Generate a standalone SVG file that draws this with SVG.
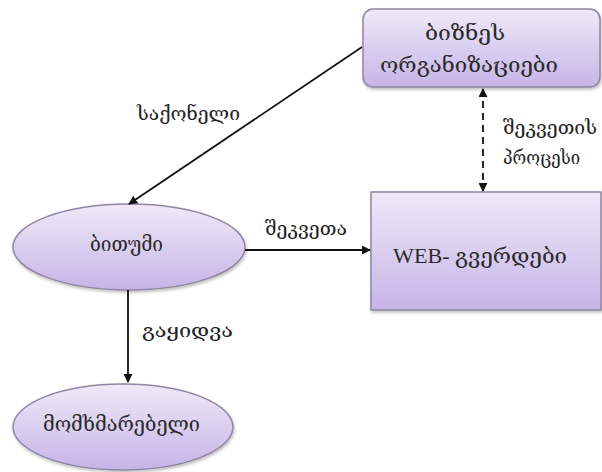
<svg xmlns="http://www.w3.org/2000/svg" width="602" height="472" viewBox="0 0 602 472">
<defs>
<linearGradient id="g" x1="0" y1="0" x2="0" y2="1">
<stop offset="0" stop-color="#efe9f8"/>
<stop offset="1" stop-color="#c7b4e7"/>
</linearGradient>
<filter id="sh" x="-10%" y="-10%" width="120%" height="130%">
<feDropShadow dx="1" dy="2" stdDeviation="1.5" flood-color="#000" flood-opacity="0.25"/>
</filter>
<marker id="ah" viewBox="0 0 10 10" refX="9" refY="5" markerWidth="9" markerHeight="9" markerUnits="userSpaceOnUse" orient="auto-start-reverse">
<path d="M0,0 L10,5 L0,10 z" fill="#111"/>
</marker>
</defs>
<style>
.shape{fill:url(#g);stroke:#8e86a3;stroke-width:1.5;filter:url(#sh)}
.t{font-family:"DejaVu Serif","DejaVu Sans",serif;font-size:20px;fill:#2a2a2a}
.lbl{font-family:"DejaVu Serif","DejaVu Sans",serif;font-size:19px;fill:#222}
.c{stroke:#111;stroke-width:1.8;fill:none}
</style>
<rect width="602" height="472" fill="#fff"/>
<g id="biz">
<rect class="shape" x="363" y="9" width="237" height="78" rx="10"/>
<text class="t" x="425" y="40" textLength="80" lengthAdjust="spacingAndGlyphs">ბიზნეს</text>
<text class="t" x="380" y="72" textLength="178" lengthAdjust="spacingAndGlyphs">ორგანიზაციები</text>
</g>
<g id="bitumi">
<ellipse class="shape" cx="129" cy="247" rx="116" ry="43"/>
<text class="t" x="90" y="251" textLength="73" lengthAdjust="spacingAndGlyphs">ბითუმი</text>
</g>
<g id="web">
<rect class="shape" x="371" y="192" width="230" height="118"/>
<text x="393" y="263" textLength="174" lengthAdjust="spacingAndGlyphs" style="font-family:'Liberation Serif','DejaVu Serif',serif;font-size:20px;fill:#2a2a2a">WEB- გვერდები</text>
</g>
<g id="consumer">
<ellipse class="shape" cx="123" cy="427" rx="110" ry="43"/>
<text class="t" x="43" y="431" textLength="157" lengthAdjust="spacingAndGlyphs">მომხმარებელი</text>
</g>
<g id="connectors">
<line class="c" x1="362" y1="47" x2="129" y2="204" marker-end="url(#ah)"/>
<line class="c" x1="483" y1="89" x2="483" y2="191" stroke-dasharray="7,5" marker-start="url(#ah)" marker-end="url(#ah)"/>
<line class="c" x1="245" y1="250" x2="370" y2="250" marker-end="url(#ah)"/>
<line class="c" x1="128" y1="290" x2="128" y2="382" marker-end="url(#ah)"/>
<text class="lbl" x="137" y="120" textLength="103" lengthAdjust="spacingAndGlyphs">საქონელი</text>
<text class="lbl" x="503" y="134" textLength="94" lengthAdjust="spacingAndGlyphs">შეკვეთის</text>
<text class="lbl" x="503" y="164" textLength="77" lengthAdjust="spacingAndGlyphs">პროცესი</text>
<text class="lbl" x="265" y="235" textLength="82" lengthAdjust="spacingAndGlyphs">შეკვეთა</text>
<text class="lbl" x="142" y="337" textLength="91" lengthAdjust="spacingAndGlyphs">გაყიდვა</text>
</g>
</svg>
